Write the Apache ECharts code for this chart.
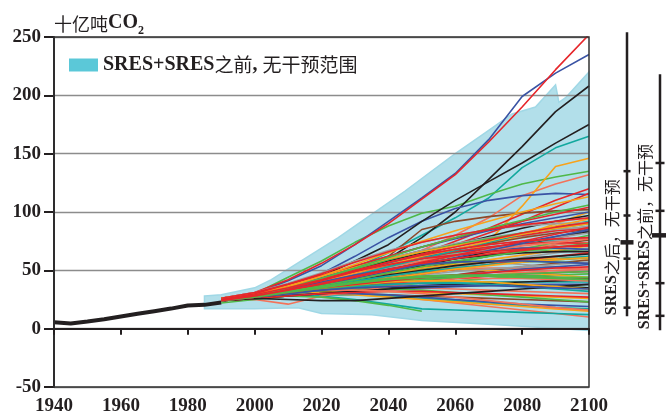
<!DOCTYPE html>
<html><head><meta charset="utf-8">
<script src="https://cdn.jsdelivr.net/npm/echarts@6/dist/echarts.min.js"></script>
<style>html,body{margin:0;padding:0;background:#fff}#c{width:666px;height:413px}</style>
</head><body><div id="c"></div>
<script>
// ---------- data ----------
const YEARS = [1990,2000,2010,2020,2030,2040,2050,2060,2070,2080,2090,2100];
const HIST_YEARS  = [1940,1945,1950,1955,1960,1965,1970,1975,1980,1985,1990];
const HIST_VALUES = [5.5,4.5,6.2,8,10.5,12.8,15,17.2,19.8,20.4,22.4];

const BAND_UP_YEARS = [1985,1990,2000,2005,2015,2025,2035,2045,2060,2070,2077,2084,2090,2091,2093,2100];
const BAND_UP       = [28,29,35,42,60,78,98,118,150,170,184,190,209,194,198,220];
const BAND_LO_YEARS = [1985,2000,2013,2020,2035,2050,2075,2100];
const BAND_LO       = [17,17,18,13,12,7,3,-1.5];

const RANGE_NAMES_LATIN = ['SRES','SRES+SRES'];
const RANGE_NAMES_CJK   = ['之后，无干预','之前，无干预'];
// [min, p5, p25, median, p75, p95, max]
const RANGE_AFTER  = [10.7,18,60,74,97,135,254];
const RANGE_BEFORE = [-1.3,11,39,80,101,142,218];

const LEGEND_NAME = 'SRES+SRES之前, 无干预范围';

const RED_LINES = [
  [26,31,42,56,72,90,111,132,160,190,222,252],
  [25,28,34,40,48,56,64,75,86,98,110,120],
  [24,27,32,38,45,53,62,72,82,92,104,116],
  [25,29,36,44,52,60,67,72,76,80,84,86],
  [25,29,34,40,47,54,60,66,70,73,74,73],
  [24,27,31,35,39,43,47,51,55,59,62,65],
  [24,27,30,33,36,39,41,43,45,47,48,49],
  [24,26,28,30,31,32,32,31,30,29,28,27],
  [26,31,38,46,54,62,70,78,85,92,98,104],
  [25,28,34,41,49,57,64,70,76,82,87,91],
  [25,29,35,42,49,55,60,63,66,68,70,71],
  [24,27,31,35,38,41,44,46,48,50,52,53],
  [25,28,33,38,44,50,57,63,69,75,81,87],
  [25,30,38,47,57,66,74,80,85,89,92,95],
  [25,29,35,42,50,57,63,68,72,75,77,78],
  [24,28,33,39,45,51,56,60,64,67,70,72]
];
const BLUE_LINES = [
  [25,30,41,54,72,92,112,133,162,199,219,235],
  [26,30,38,47,62,78,92,103,110,114,116,115],
  [24,28,33,39,45,51,57,63,68,74,79,84],
  [25,29,35,42,49,56,62,66,68,69,69,68],
  [24,27,30,33,36,39,42,45,48,51,53,55],
  [24,26,28,30,32,34,35,36,37,38,38,38],
  [24,27,29,30,30,29,27,25,23,21,20,19],
  [25,29,36,44,53,62,70,77,84,90,95,100],
  [24,27,32,37,43,49,55,61,67,73,79,85],
  [25,29,34,40,46,51,55,57,58,58,57,56],
  [24,27,30,33,35,36,37,37,37,36,35,34]
];
const BLACK_LINES = [
  [24,27,32,38,48,60,78,100,128,156,186,208],
  [25,30,37,45,58,72,92,110,126,142,159,175],
  [25,28,33,38,43,48,54,60,66,72,78,83],
  [26,29,34,39,45,51,56,60,63,65,66,66],
  [24,27,29,31,33,35,37,38,39,40,41,42],
  [25,29,35,42,50,58,65,72,79,86,92,97],
  [24,27,31,36,41,46,50,54,57,60,62,64],
  [24,26,28,30,32,34,36,37,37,37,36,35],
  [24,26,25,24,24,26,28,30,32,34,36,38]
];
const GREEN_LINES = [
  [24,30,44,58,74,88,99,105,115,124,130,135],
  [24,27,31,36,41,46,51,56,62,68,74,80],
  [24,28,34,41,48,55,61,65,67,68,67,66],
  [25,29,35,41,47,52,55,57,58,58,57,56],
  [24,27,30,32,35,37,39,41,43,45,46,47],
  [25,28,32,36,39,41,42,41,40,38,36,35],
  [25,28,31,33,34,34,33,31,29,27,25,23],
  [22,25,28,27,24,20,15,null,null,null,null,null],
  [25,29,35,43,51,59,66,72,77,82,86,90],
  [24,28,32,37,42,48,53,58,62,66,70,73],
  [25,28,31,34,37,40,42,44,46,47,48,49],
  [24,28,35,43,52,61,70,78,86,93,100,106],
  [24,27,31,35,39,42,44,45,45,44,43,42],
  [25,28,32,36,40,43,45,46,46,45,44,44]
];
const ORANGE_LINES = [
  [24,28,33,40,46,52,57,62,75,105,139,146],
  [25,29,34,40,46,52,58,64,72,80,90,100],
  [24,27,30,34,39,44,49,54,59,63,67,71],
  [24,28,33,38,43,48,52,55,57,59,60,60],
  [25,29,34,39,44,48,50,51,50,48,46,44],
  [25,28,30,31,32,32,31,30,29,28,27,26],
  [25,27,29,30,29,27,25,23,21,19,17,15],
  [24,28,34,41,48,55,62,68,75,82,88,94],
  [26,30,37,45,53,60,66,71,76,81,86,90],
  [24,27,31,35,39,43,47,51,54,57,59,61],
  [25,28,32,35,38,40,41,41,40,38,36,34],
  [25,29,36,45,55,65,75,84,92,100,107,113]
];
const TEAL_LINES = [
  [25,29,35,42,52,65,80,95,112,138,155,165],
  [26,30,36,43,50,56,61,66,70,73,76,78],
  [25,28,32,36,40,44,48,52,55,58,60,62],
  [25,28,31,34,36,38,39,40,40,40,40,40],
  [24,26,28,29,29,28,26,24,22,20,18,17],
  [25,27,29,28,25,21,17,16,15,14,13,12],
  [24,28,33,39,46,53,60,67,74,81,87,92],
  [25,28,32,36,41,45,49,52,55,57,59,61],
  [24,27,30,33,36,38,39,39,38,36,34,32]
];
const SALMON_LINES = [
  [25,29,35,42,50,58,67,80,95,114,124,132],
  [24,28,33,38,44,50,55,60,65,69,72,74],
  [25,28,32,37,42,46,49,51,52,52,52,51],
  [24,27,30,32,34,35,35,34,33,32,31,30],
  [24,27,30,32,31,28,25,22,19,16,13,10],
  [25,29,35,41,47,53,58,63,67,71,74,77],
  [24,27,30,34,37,40,42,43,43,43,42,41],
  [24,25,21,28,32,36,40,43,46,48,50,51],
  [25,28,31,33,33,32,30,27,24,21,18,16]
];
const GRAY_LINES = [
  [26,30,36,43,50,57,63,68,74,79,84,88],
  [25,28,32,36,40,45,49,53,57,61,65,69],
  [26,30,36,42,48,53,56,57,57,55,53,50],
  [25,29,35,42,49,55,60,64,68,72,75,78],
  [25,29,34,40,46,52,58,63,68,73,78,82],
  [25,28,31,35,39,43,46,49,51,53,55,57],
  [26,30,37,44,52,60,67,73,78,82,85,87],
  [26,31,39,48,58,67,74,80,85,88,90,91]
];
const BROWN_LINES = [
  [25,28,32,37,42,47,52,57,62,67,72,76],
  [25,28,31,34,37,40,43,46,50,53,56,59],
  [24,27,29,30,30,29,28,27,26,25,24,23],
  [25,29,35,42,50,57,63,68,73,78,82,85],
  [25,28,32,36,40,43,45,46,46,45,44,43],
  [24,27,31,36,44,62,85,92,96,99,101,102]
];

// ---------- styling ----------
const SERIF = "'Liberation Serif','Times New Roman',serif";
const CJK = "'Noto Sans CJK SC','Noto Sans',sans-serif";
const INK = '#231f20';
const GROUPS = [
  [GRAY_LINES,'#9d9d9d'],
  [BROWN_LINES,'#8b4a2b'],
  [SALMON_LINES,'#f3735a'],
  [TEAL_LINES,'#12a89e'],
  [GREEN_LINES,'#4fb848'],
  [ORANGE_LINES,'#f8a21b'],
  [BLUE_LINES,'#3a53a4'],
  [BLACK_LINES,INK],
  [RED_LINES,'#e6262b']
];

const lineSeries = [];
const maxLen = Math.max(...GROUPS.map(g => g[0].length));
for (let i = 0; i < maxLen; i++) {
  GROUPS.forEach(([arr, color]) => {
    if (!arr[i]) return;
    const vals = arr[i];
    lineSeries.push({
      type:'line', xAxisIndex:0, yAxisIndex:0, z:3, silent:true,
      symbol:'none', showSymbol:false, clip:true,
      lineStyle:{color, width:1.6},
      data: YEARS.map((y,k) => vals[k] == null ? null : [y, vals[k]]).filter(Boolean)
    });
  });
}

const bandSeries = {
  name: LEGEND_NAME, type:'custom', xAxisIndex:0, yAxisIndex:0, z:1, silent:true,
  itemStyle:{color:'#5bc8d8'},
  data:[[2000, 50]],
  renderItem:(params, api) => {
    const pts = [];
    BAND_UP_YEARS.forEach((y,i) => pts.push(api.coord([y, BAND_UP[i]])));
    for (let i = BAND_LO_YEARS.length - 1; i >= 0; i--) pts.push(api.coord([BAND_LO_YEARS[i], BAND_LO[i]]));
    return {type:'polygon', shape:{points:pts}, style:{fill:'#b2dfea', stroke:'#a0d8e6', lineWidth:1.5}};
  }
};

const histSeries = {
  type:'line', xAxisIndex:0, yAxisIndex:0, z:6, silent:true, symbol:'none',
  lineStyle:{color:INK, width:4},
  data: HIST_YEARS.map((y,i) => [y, HIST_VALUES[i]])
};

const rangeSeries = {
  type:'custom', xAxisIndex:1, yAxisIndex:1, z:5, silent:true, clip:false,
  data:[[0, ...RANGE_AFTER],[1, ...RANGE_BEFORE]],
  renderItem:(params, api) => {
    const idx = api.value(0);
    const p = k => api.coord([idx, api.value(k)]);
    const bot = p(1), top = p(7);
    const x = bot[0];
    const tick = (pt, hw, lw) => ({type:'line', shape:{x1:x-hw, y1:pt[1], x2:x+hw, y2:pt[1]}, style:{stroke:INK, lineWidth:lw}});
    const hw = idx === 0 ? 3.5 : 4.5;
    return {type:'group', children:[
      {type:'line', shape:{x1:x, y1:bot[1], x2:x, y2:top[1]}, style:{stroke:INK, lineWidth:2.5}},
      tick(p(2), hw, 2.5), tick(p(3), hw, 2.5), tick(p(5), hw, 2.5), tick(p(6), hw, 2.5),
      tick(p(4), idx === 0 ? 6.5 : 8, 4.5),
      {type:'text', x: x - 15, y: bot[1] - 1, rotation: Math.PI/2,
       style:{text:'{a|' + RANGE_NAMES_LATIN[idx] + '}{b|' + RANGE_NAMES_CJK[idx] + '}',
         align:'left', verticalAlign:'middle',
         rich:{a:{fontFamily:SERIF, fontWeight:'bold', fontSize:16, fill:INK},
               b:{fontFamily:CJK, fontSize:16, fill:INK}}}}
    ]};
  }
};

const chart = echarts.init(document.getElementById('c'), null, {renderer:'canvas'});
chart.setOption({
  animation:false,
  backgroundColor:'#fff',
  title:{
    text:'{a|十亿吨}{b|CO}{c|2}', left:54, top:13, padding:0,
    textStyle:{fontWeight:'normal', rich:{
      a:{fontFamily:CJK, fontWeight:'normal', fontSize:18, color:INK, padding:[0,0,4,0], verticalAlign:'bottom'},
      b:{fontFamily:SERIF, fontWeight:'bold', fontSize:20, color:INK, padding:[0,0,4,0], verticalAlign:'bottom'},
      c:{fontFamily:SERIF, fontWeight:'bold', fontSize:12, color:INK, verticalAlign:'bottom'}
    }}
  },
  legend:{
    left:69, top:55, padding:0, itemWidth:29, itemHeight:13, itemGap:5,
    data:[{name:LEGEND_NAME, icon:'rect', itemStyle:{color:'#5bc8d8'}}],
    formatter:() => '{a|SRES+SRES}{b|之前}{a|, }{b|无干预范围}',
    textStyle:{rich:{
      a:{fontFamily:SERIF, fontWeight:'bold', fontSize:20, color:INK},
      b:{fontFamily:CJK, fontSize:19, color:INK}
    }}
  },
  grid:[
    {left:54, right:77, top:37, bottom:26, outerBoundsMode:'none', show:true, z:7, backgroundColor:'transparent', borderColor:'#333', borderWidth:1.5},
    {left:627, right:6, top:37, bottom:26, outerBoundsMode:'none'}
  ],
  xAxis:[
    {type:'value', gridIndex:0, min:1940, max:2100, interval:20, z:7,
     axisLine:{show:true, lineStyle:{color:INK, width:2}},
     axisTick:{show:true, inside:false, length:6, lineStyle:{color:INK, width:2}},
     axisLabel:{fontFamily:SERIF, fontWeight:'bold', fontSize:19, color:INK, margin:10, formatter:v => String(v)},
     splitLine:{show:false}},
    {type:'category', gridIndex:1, data:['a','b'], boundaryGap:false, show:false}
  ],
  yAxis:[
    {type:'value', gridIndex:0, min:-50, max:250, interval:50, z:2,
     axisLine:{show:true, lineStyle:{color:INK, width:2}},
     axisTick:{show:true, inside:false, length:10, lineStyle:{color:INK, width:2}},
     axisLabel:{fontFamily:SERIF, fontWeight:'bold', fontSize:19, color:INK, margin:13, formatter:v => String(v)},
     splitLine:{show:true, lineStyle:{color:'#8c8c8c', width:1.3}}},
    {type:'value', gridIndex:1, min:-50, max:250, show:false}
  ],
  series:[bandSeries, ...lineSeries, histSeries, rangeSeries]
});
</script></body></html>
